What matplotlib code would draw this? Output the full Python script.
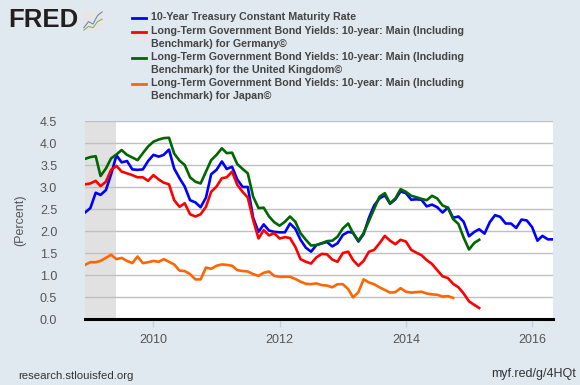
import matplotlib
matplotlib.use("Agg")
import matplotlib.pyplot as plt
import pandas as pd

# ---- data (monthly, starting Dec 2008) ----
start = "2008-12-01"
us_10y = [2.42,
          2.52, 2.87, 2.82, 2.93, 3.29, 3.72, 3.56, 3.59, 3.40, 3.39, 3.40, 3.59,
          3.73, 3.69, 3.73, 3.85, 3.42, 3.20, 3.01, 2.70, 2.65, 2.54, 2.76, 3.29,
          3.39, 3.58, 3.41, 3.46, 3.17, 3.00, 3.00, 2.30, 1.98, 2.15, 2.01, 1.98,
          1.97, 1.97, 2.17, 2.05, 1.80, 1.62, 1.53, 1.68, 1.72, 1.75, 1.65, 1.72,
          1.91, 1.98, 1.96, 1.76, 1.93, 2.30, 2.58, 2.74, 2.81, 2.62, 2.72, 2.90,
          2.86, 2.71, 2.72, 2.71, 2.56, 2.60, 2.54, 2.42, 2.53, 2.30, 2.33, 2.21,
          1.88, 1.98, 2.04, 1.94, 2.20, 2.36, 2.32, 2.17, 2.17, 2.07, 2.26, 2.24,
          2.09, 1.78, 1.89, 1.81, 1.81]
germany = [3.06,
           3.08, 3.14, 3.02, 3.12, 3.39, 3.48, 3.35, 3.31, 3.27, 3.22, 3.22, 3.14,
           3.27, 3.17, 3.10, 3.06, 2.70, 2.55, 2.63, 2.38, 2.33, 2.38, 2.55, 2.89,
           3.01, 3.20, 3.22, 3.35, 3.05, 2.89, 2.76, 2.25, 1.83, 2.02, 1.90, 1.95,
           1.83, 1.86, 1.84, 1.64, 1.36, 1.30, 1.26, 1.40, 1.48, 1.47, 1.35, 1.30,
           1.50, 1.53, 1.34, 1.21, 1.32, 1.53, 1.57, 1.72, 1.89, 1.78, 1.70, 1.80,
           1.76, 1.57, 1.51, 1.45, 1.34, 1.25, 1.11, 0.97, 0.93, 0.80, 0.72, 0.58,
           0.40, 0.32, 0.25]
uk = [3.64,
      3.68, 3.70, 3.25, 3.42, 3.65, 3.74, 3.84, 3.73, 3.67, 3.61, 3.77, 3.92,
      4.03, 4.08, 4.11, 4.12, 3.76, 3.60, 3.50, 3.22, 3.12, 3.08, 3.35, 3.61,
      3.73, 3.88, 3.77, 3.78, 3.52, 3.41, 3.31, 2.78, 2.52, 2.53, 2.33, 2.20,
      2.12, 2.21, 2.33, 2.21, 1.95, 1.80, 1.67, 1.68, 1.72, 1.77, 1.78, 1.87,
      2.06, 2.17, 1.95, 1.78, 1.95, 2.23, 2.50, 2.78, 2.86, 2.63, 2.74, 2.95,
      2.89, 2.80, 2.77, 2.73, 2.70, 2.80, 2.74, 2.58, 2.53, 2.27, 2.16, 1.85,
      1.58, 1.73, 1.80]
japan = [1.23,
         1.29, 1.29, 1.32, 1.39, 1.46, 1.36, 1.39, 1.32, 1.27, 1.42, 1.27, 1.29,
         1.32, 1.30, 1.36, 1.30, 1.24, 1.10, 1.09, 1.02, 0.90, 0.90, 1.17, 1.14,
         1.21, 1.24, 1.23, 1.21, 1.11, 1.09, 1.08, 1.02, 0.98, 1.05, 1.08, 0.98,
         0.96, 0.96, 0.96, 0.91, 0.85, 0.80, 0.79, 0.81, 0.77, 0.76, 0.72, 0.79,
         0.79, 0.68, 0.49, 0.61, 0.90, 0.83, 0.79, 0.72, 0.66, 0.60, 0.61, 0.70,
         0.62, 0.60, 0.61, 0.62, 0.58, 0.56, 0.55, 0.51, 0.52, 0.48]

series_labels = ["10-Year Treasury Constant Maturity Rate",
                 "Long-Term Government Bond Yields: 10-year: Main (Including\nBenchmark) for Germany\u00a9",
                 "Long-Term Government Bond Yields: 10-year: Main (Including\nBenchmark) for the United Kingdom\u00a9",
                 "Long-Term Government Bond Yields: 10-year: Main (Including\nBenchmark) for Japan\u00a9"]
series_colors = ["#0000FF", "#FF0000", "#006600", "#FF6600"]
recession = ("2008-12-01", "2009-06-01")
y_ticks = [0.0, 0.5, 1.0, 1.5, 2.0, 2.5, 3.0, 3.5, 4.0, 4.5]
x_tick_years = [2010, 2012, 2014, 2016]

BG = "#E1E9F0"
W, H = 580, 385
plt.rcParams["font.family"] = ["Liberation Sans", "DejaVu Sans"]
fig = plt.figure(figsize=(W / 100, H / 100), dpi=100, facecolor=BG)

ax = fig.add_axes([85 / W, (H - 319) / H, (553 - 85) / W, (319 - 121) / H])
ax.set_facecolor("white")

all_series = [us_10y, germany, uk, japan]
for vals, col in zip(all_series, series_colors):
    d = pd.date_range(start, periods=len(vals), freq="MS")
    ax.plot(d, vals, color=col, lw=1.9, solid_joinstyle="round", zorder=3)

ax.axvspan(pd.Timestamp(recession[0]), pd.Timestamp(recession[1]),
           color="#E1E1E1", zorder=1, lw=0)

ax.set_ylim(0, 4.5)
ax.set_xlim(pd.Timestamp("2008-12-01"), pd.Timestamp("2016-05-01"))
ax.set_yticks(y_ticks)
ax.set_yticklabels([f"{v:.1f}" for v in y_ticks])
ax.set_xticks([pd.Timestamp(f"{y}-01-01") for y in x_tick_years])
ax.set_xticklabels([str(y) for y in x_tick_years])
ax.grid(axis="y", color="#C0C0C0", lw=1, zorder=2)
ax.grid(axis="x", visible=False)
for s in ["top", "right", "left"]:
    ax.spines[s].set_visible(False)
ax.spines["bottom"].set_color("black")
ax.spines["bottom"].set_linewidth(2.2)
ax.spines["bottom"].set_zorder(5)
ax.tick_params(axis="y", length=0, pad=20, labelsize=9, labelcolor="#555555")
ax.tick_params(axis="x", length=6, width=1, color="#C0D0E0", pad=5,
               labelsize=9, labelcolor="#555555", direction="out")
ax.set_ylabel("(Percent)", fontsize=9, color="#555555", labelpad=10)

# legend
ly = [18, 32, 58, 84]
for txt, col, yy in zip(series_labels, series_colors, ly):
    fig.add_artist(plt.Line2D([132 / W, 146 / W], [1 - yy / H, 1 - yy / H],
                              color=col, lw=2))
    fig.text(151 / W, 1 - (yy - 6.5) / H, txt, fontsize=7.7, fontweight="bold",
             color="#444444", va="top", ha="left", linespacing=1.38)

# FRED logo
fig.text(8 / W, 1 - 20 / H, "FRED", fontsize=18.5, fontweight="bold",
         color="#231F20", va="center", ha="left")
iax = fig.add_axes([83 / W, 1 - 31 / H, 20 / W, 20 / H])
iax.set_facecolor("#E6E6E6")
iax.plot([0, 1, 2, 3, 4], [1, 2, 1.6, 3, 3.6], color="#6A8AB0", lw=0.8)
iax.plot([0, 1, 2, 3, 4], [0.6, 1.2, 1.0, 2.0, 2.4], color="#8AB060", lw=0.8)
iax.set_xticks([]); iax.set_yticks([])
for s in iax.spines.values():
    s.set_visible(False)

fig.text(18 / W, 1 - 376 / H, "research.stlouisfed.org", fontsize=8.2,
         color="#333333", va="center", ha="left")
fig.text(576 / W, 1 - 374 / H, "myf.red/g/4HQt", fontsize=9,
         color="#333333", va="center", ha="right")

fig.savefig("out.png", dpi=100, facecolor=BG)
